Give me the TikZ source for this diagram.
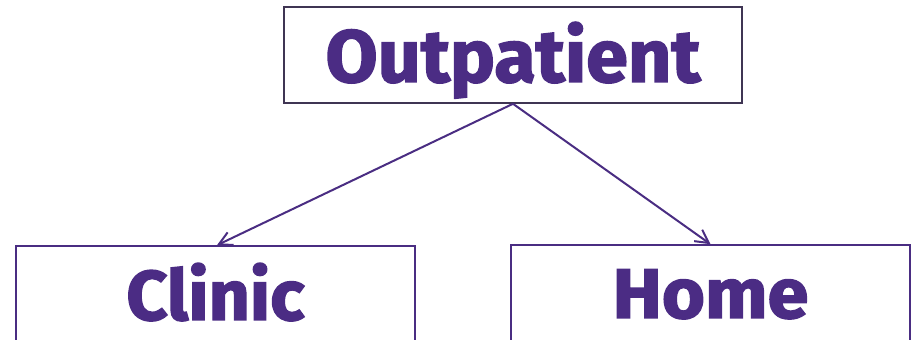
\documentclass[tikz,border=0pt]{standalone}
\usepackage{fontspec}
\setmainfont{Fira Sans}[BoldFeatures={FakeBold=2}]
\usetikzlibrary{arrows.meta}
\definecolor{txtpurple}{HTML}{4B2C84}
\definecolor{topframe}{HTML}{3F3553}
\definecolor{linepurple}{HTML}{4A2D82}
\tikzset{
  box/.style={draw, line width=1.6pt, rectangle, inner sep=0pt, text=txtpurple,
    font=\fontsize{74}{80}\selectfont\bfseries},
  conn/.style={draw=linepurple, line width=2pt, arrows={-Straight Barb[length=13pt, width=14pt, line width=2pt]}}
}
\begin{document}
\begin{tikzpicture}[x=1pt,y=1pt]
\useasboundingbox (0,0) rectangle (913,340);
\node[box, draw=topframe, minimum width=458pt, minimum height=96pt] (out) at (513,285) {\raisebox{-27pt}[0pt][0pt]{\scalebox{1.02}[1]{Outpatient}}};
\node[box, draw=linepurple, minimum width=399pt, minimum height=100pt] (clinic) at (215.5,44) {\raisebox{-24pt}[0pt][0pt]{\scalebox{0.97}[0.95]{Clinic}}};
\node[box, draw=linepurple, minimum width=399pt, minimum height=100pt] (home) at (710.5,45) {\raisebox{-23pt}[0pt][0pt]{\scalebox{1.0}[0.95]{Home}}};
\draw[conn] (out.south) -- ([xshift=1.5pt]clinic.north);
\draw[conn] (out.south) -- (home.north);
\end{tikzpicture}
\end{document}
